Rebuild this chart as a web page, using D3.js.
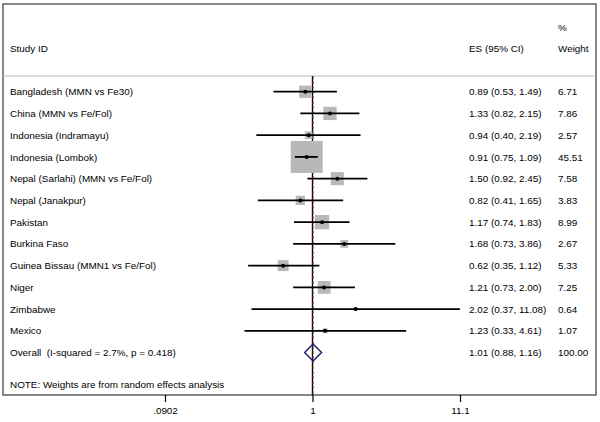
<!DOCTYPE html>
<html><head><meta charset="utf-8">
<script src="https://cdn.jsdelivr.net/npm/d3@7"></script>
<style>body{margin:0;background:#fff}svg{display:block;font-family:"Liberation Sans",Arial,sans-serif}</style>
</head><body><svg id="c" width="600" height="422"></svg>
<script>
const studies = ["Bangladesh (MMN vs Fe30)","China (MMN vs Fe/Fol)","Indonesia (Indramayu)","Indonesia (Lombok)","Nepal (Sarlahi) (MMN vs Fe/Fol)","Nepal (Janakpur)","Pakistan","Burkina Faso","Guinea Bissau (MMN1 vs Fe/Fol)","Niger","Zimbabwe","Mexico"];
const es = [0.89,1.33,0.94,0.91,1.50,0.82,1.17,1.68,0.62,1.21,2.02,1.23];
const lo = [0.53,0.82,0.40,0.75,0.92,0.41,0.74,0.73,0.35,0.73,0.37,0.33];
const hi = [1.49,2.15,2.19,1.09,2.45,1.65,1.83,3.86,1.12,2.00,11.08,4.61];
const weights = [6.71,7.86,2.57,45.51,7.58,3.83,8.99,2.67,5.33,7.25,0.64,1.07];
const overall = {label:"Overall  (I-squared = 2.7%, p = 0.418)", es:1.01, lo:0.88, hi:1.16, w:100.00};
const tickVals = [0.0902, 1, 11.1];
const tickLabels = [".0902","1","11.1"];

const svg = d3.select("#c");
const fs = "9.9px";
const x = d3.scaleLog().domain([0.0902, 11.1]).range([165, 460]);
const y = d3.scaleLinear().domain([0, 12]).range([91.7, 352.6]);
const boxTop = 4, boxBot = 395, boxL = 3, boxR = 596, sepY = 76;

// frame
svg.append("rect").attr("x", boxL).attr("y", boxTop).attr("width", boxR - boxL).attr("height", boxBot - boxTop)
  .attr("fill", "none").attr("stroke", "#555").attr("stroke-width", 1.4);
svg.append("line").attr("x1", boxL).attr("x2", boxR).attr("y1", sepY).attr("y2", sepY)
  .attr("stroke", "#bbb").attr("stroke-width", 1);

// headers
const hdr = svg.append("g").attr("font-size", fs).attr("fill", "#000");
hdr.append("text").attr("x", 10).attr("y", 52).text("Study ID");
hdr.append("text").attr("x", 469).attr("y", 52).text("ES (95% CI)");
hdr.append("text").attr("x", 558).attr("y", 31).text("%");
hdr.append("text").attr("x", 558).attr("y", 52).text("Weight");

// null line and overall dashed line
svg.append("line").attr("x1", x(1)).attr("x2", x(1)).attr("y1", sepY).attr("y2", boxBot)
  .attr("stroke", "#000").attr("stroke-width", 1.3);
svg.append("line").attr("x1", x(overall.es)).attr("x2", x(overall.es)).attr("y1", sepY).attr("y2", boxBot)
  .attr("stroke", "#8a3030").attr("stroke-width", 1).attr("stroke-dasharray", "3,2");

// boxes
const k = 4.74;
svg.append("g").selectAll("rect").data(studies).join("rect")
  .attr("x", (d, i) => x(es[i]) - k * Math.sqrt(weights[i]) / 2)
  .attr("y", (d, i) => y(i) - k * Math.sqrt(weights[i]) / 2)
  .attr("width", (d, i) => k * Math.sqrt(weights[i]))
  .attr("height", (d, i) => k * Math.sqrt(weights[i]))
  .attr("fill", "#b8b8b8");

// CI lines
svg.append("g").selectAll("line").data(studies).join("line")
  .attr("x1", (d, i) => x(lo[i])).attr("x2", (d, i) => x(hi[i]))
  .attr("y1", (d, i) => y(i)).attr("y2", (d, i) => y(i))
  .attr("stroke", "#000").attr("stroke-width", 1.8);
// points
svg.append("g").selectAll("circle").data(studies).join("circle")
  .attr("cx", (d, i) => x(es[i])).attr("cy", (d, i) => y(i))
  .attr("r", 2).attr("fill", "#000");

// overall diamond
const oy = y(12);
svg.append("path")
  .attr("d", `M${x(overall.lo)},${oy} L${x(overall.es)},${oy - 8.5} L${x(overall.hi)},${oy} L${x(overall.es)},${oy + 8.5} Z`)
  .attr("fill", "none").attr("stroke", "#1a1a6e").attr("stroke-width", 1.4);

// left labels
const lab = svg.append("g").attr("font-size", fs).attr("fill", "#000");
lab.selectAll("text").data(studies.concat([overall.label])).join("text")
  .attr("x", 10).attr("y", (d, i) => y(i) + 3.6)
  .style("white-space", "pre").text(d => d);
const f2 = d3.format(".2f");
const esTxt = studies.map((d, i) => `${f2(es[i])} (${f2(lo[i])}, ${f2(hi[i])})`).concat([`${f2(overall.es)} (${f2(overall.lo)}, ${f2(overall.hi)})`]);
const wTxt = weights.map(f2).concat([f2(overall.w)]);
lab.append("g").selectAll("text").data(esTxt).join("text")
  .attr("x", 469).attr("y", (d, i) => y(i) + 3.6).text(d => d);
lab.append("g").selectAll("text").data(wTxt).join("text")
  .attr("x", 558).attr("y", (d, i) => y(i) + 3.6).text(d => d);
lab.append("text").attr("x", 10).attr("y", 387.5).text("NOTE: Weights are from random effects analysis");

// axis
const ax = svg.append("g").attr("transform", `translate(0,${boxBot})`)
  .call(d3.axisBottom(x).tickValues(tickVals).tickFormat((d, i) => tickLabels[i]).tickSize(7).tickPadding(5));
ax.select(".domain").remove();
ax.selectAll("line").attr("stroke", "#000").attr("stroke-width", 1.2);
ax.selectAll("text").attr("font-size", fs).attr("font-family", "Liberation Sans, Arial, sans-serif").attr("fill", "#000");
</script></body></html>
